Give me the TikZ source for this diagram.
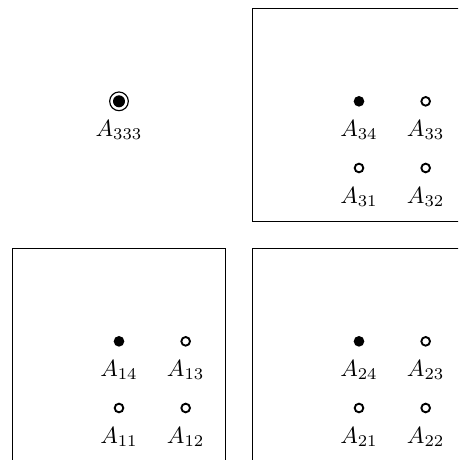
\documentclass[tikz,border=0pt]{standalone}
\usepackage{amsmath, amsfonts, amssymb}
\usepackage{xcolor}
\usetikzlibrary{positioning}

\begin{document}
\begin{tikzpicture}
	\tikzstyle{full}=[circle,fill=black,inner sep=0pt,minimum size=0.16cm]
	\tikzstyle{empty}=[circle,draw=black,line width=0.8pt,inner sep=0pt,minimum size=0.13cm]
	\tikzstyle{ring}=[circle,draw=black,line width=0.5pt,inner sep=0pt,minimum size=0.28cm]
	\tikzstyle{lab}=[inner sep=0.333em]
	\clip (-1.785,-0.78) rectangle (5.085,6.12);
	\draw (-1.6,-0.8) rectangle (1.6,2.4);
	\draw (2,-0.8) rectangle (5.2,2.4);
	\draw (2,2.8) rectangle (5.2,6);
	\node[full](a14) at (0,1) {};
	\node[empty](a13) at (1,1) {};
	\node[empty](a11) at (0,0) {};
	\node[empty](a12) at (1,0) {};
	\node[full](a24) at (3.6,1) {};
	\node[empty](a23) at (4.6,1) {};
	\node[empty](a21) at (3.6,0) {};
	\node[empty](a22) at (4.6,0) {};
	\node[full](a34) at (3.6,4.6) {};
	\node[empty](a33) at (4.6,4.6) {};
	\node[empty](a31) at (3.6,3.6) {};
	\node[empty](a32) at (4.6,3.6) {};
	\node[ring](a333) at (0,4.6) {};
	\node[full,minimum size=0.18cm] at (a333) {};
	\node[lab,below=0.163cm of a14.center](l14) {$A_{14}$};
	\node[lab,below=0.163cm of a13.center](l13) {$A_{13}$};
	\node[lab,below=0.163cm of a11.center](l11) {$A_{11}$};
	\node[lab,below=0.163cm of a12.center](l12) {$A_{12}$};
	\node[lab,below=0.163cm of a24.center](l24) {$A_{24}$};
	\node[lab,below=0.163cm of a23.center](l23) {$A_{23}$};
	\node[lab,below=0.163cm of a21.center](l21) {$A_{21}$};
	\node[lab,below=0.163cm of a22.center](l22) {$A_{22}$};
	\node[lab,below=0.163cm of a34.center](l34) {$A_{34}$};
	\node[lab,below=0.163cm of a33.center](l33) {$A_{33}$};
	\node[lab,below=0.163cm of a31.center](l31) {$A_{31}$};
	\node[lab,below=0.163cm of a32.center](l32) {$A_{32}$};
	\node[lab,below=0.163cm of a333.center](l333) {$A_{333}$};
\end{tikzpicture}
\end{document}
